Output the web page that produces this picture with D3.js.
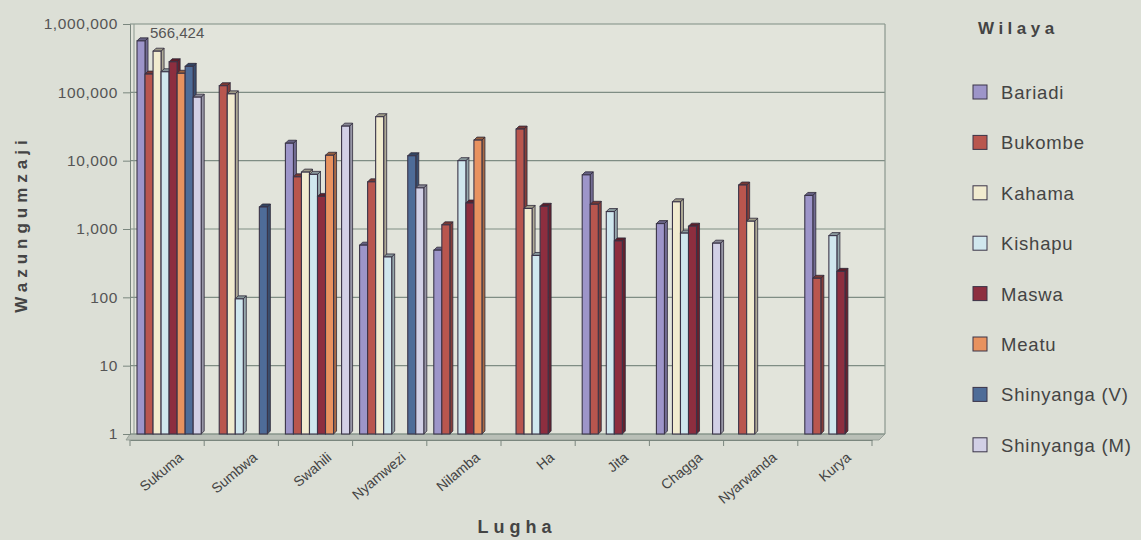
<!DOCTYPE html>
<html><head><meta charset="utf-8">
<script src="https://cdn.jsdelivr.net/npm/d3@7"></script>
<style>
html,body{margin:0;padding:0;background:#dcdfd6;}
svg{display:block;font-family:"Liberation Sans",Arial,sans-serif;}
</style></head>
<body>
<svg id="c" width="1141" height="540"></svg>
<script>
const categories = ["Sukuma","Sumbwa","Swahili","Nyamwezi","Nilamba","Ha","Jita","Chagga","Nyarwanda","Kurya"];
const seriesNames = ["Bariadi","Bukombe","Kahama","Kishapu","Maswa","Meatu","Shinyanga (V)","Shinyanga (M)"];
const seriesColors = ["#9d95c9","#b9564e","#f1ebcf","#d0e7ee","#8d2e3f","#e8925f","#4e6c98","#d2d0e6"];
// values per series, aligned with categories (0 = no bar)
const bariadi   = [566424, 0, 18000, 580, 490, 0, 6200, 1200, 0, 3100];
const bukombe   = [185000, 125000, 5800, 4900, 1150, 29000, 2300, 0, 4400, 190];
const kahama    = [400000, 95000, 6800, 44000, 0, 2000, 0, 2500, 1300, 0];
const kishapu   = [200000, 95, 6300, 390, 10000, 410, 1800, 870, 0, 800];
const maswa     = [280000, 0, 3000, 0, 2400, 2150, 670, 1100, 0, 240];
const meatu     = [190000, 0, 12000, 0, 20000, 0, 0, 0, 0, 0];
const shinyV    = [240000, 2100, 0, 11800, 0, 0, 0, 0, 0, 0];
const shinyM    = [85000, 0, 32000, 4000, 0, 0, 0, 620, 0, 0];
const seriesValues = [bariadi, bukombe, kahama, kishapu, maswa, meatu, shinyV, shinyM];
const yTicks = [1,10,100,1000,10000,100000,1000000];
const annotation = {category:"Sukuma", series:"Bariadi", text:"566,424"};

const svg = d3.select("#c");
const L = 130, R = 885, T = 24, B = 434;
const y = d3.scaleLog().domain([1,1e6]).range([B,T]);
const x0 = d3.scaleBand().domain(categories).range([L, 872]);
const bw = x0.bandwidth();
const x1 = d3.scaleBand().domain(seriesNames).range([7, bw-3]);
const color = d3.scaleOrdinal().domain(seriesNames).range(seriesColors);
const dx = 3, dy = 3;

// plot background
svg.append("rect").attr("x",L).attr("y",T).attr("width",R-L).attr("height",B-T).attr("fill","#e2e4db");
// floor
svg.append("path").attr("d",`M${L},${B} L${R},${B} L${R-6},${B+6} L${L-4},${B+6} Z`)
  .attr("fill","#b9bfb7").attr("stroke","#8e988f").attr("stroke-width",0.8);

// gridlines
svg.append("g").selectAll("line").data(yTicks).join("line")
  .attr("x1",L).attr("x2",R).attr("y1",d=>y(d)).attr("y2",d=>y(d))
  .attr("stroke","#7f8d84").attr("stroke-width",1.2);
svg.append("line").attr("x1",R).attr("x2",R).attr("y1",T).attr("y2",B).attr("stroke","#8a978e").attr("stroke-width",1.2);
svg.append("line").attr("x1",L+4).attr("x2",L+4).attr("y1",T).attr("y2",B).attr("stroke","#8a978e").attr("stroke-width",1);

// y axis
const yAxis = d3.axisLeft(y).tickValues(yTicks).tickFormat(d3.format(",")).tickSize(7).tickPadding(5);
const gy = svg.append("g").attr("transform",`translate(${L},0)`).call(yAxis);
gy.selectAll("text").attr("font-size",15.5).attr("letter-spacing",0.6).attr("fill","#555");
gy.selectAll("line").attr("stroke","#7a867e");
gy.select(".domain").attr("stroke","#7a867e");

// x axis
const xAxis = d3.axisBottom(x0).tickSize(0).tickFormat("");
const gx = svg.append("g").attr("transform",`translate(0,${B+6})`).call(xAxis);
gx.select(".domain").attr("stroke","#7a867e");
const bounds = categories.map(c=>x0(c)).concat([x0(categories[categories.length-1])+bw]);
svg.append("g").selectAll("line").data(bounds).join("line")
  .attr("x1",d=>d).attr("x2",d=>d).attr("y1",B+6).attr("y2",B+12).attr("stroke","#7a867e");

const lab = svg.append("g").selectAll("g").data(categories).join("g")
  .attr("transform",d=>`translate(${x0(d)+bw/2+17},${B+25})`);
lab.append("g").attr("transform","rotate(-40)")
  .append("text").attr("x",0).attr("y",0)
  .attr("text-anchor","end").attr("font-size",14).attr("fill","#444").text(d=>d);

// bars
const bars = [];
seriesNames.forEach((s,si)=>{
  categories.forEach((c,ci)=>{
    const v = seriesValues[si][ci];
    if (v>0) bars.push({s,c,v});
  });
});
const bw1 = x1.bandwidth();
const g = svg.append("g");
const bg = g.selectAll("g").data(bars).join("g");
bg.each(function(d){
  const sel = d3.select(this);
  const xl = x0(d.c)+x1(d.s), xr = xl+bw1, yt = y(d.v), yb = B;
  const col = d3.color(color(d.s));
  sel.append("path").attr("d",`M${xr},${yb} L${xr+dx},${yb-dy} L${xr+dx},${yt-dy} L${xr},${yt} Z`)
    .attr("fill",col.darker(0.9)).attr("stroke","#2e2a3a").attr("stroke-width",0.8);
  sel.append("path").attr("d",`M${xl},${yt} L${xl+dx},${yt-dy} L${xr+dx},${yt-dy} L${xr},${yt} Z`)
    .attr("fill",col.darker(1.2)).attr("stroke","#2e2a3a").attr("stroke-width",0.8);
  sel.append("rect").attr("x",xl).attr("y",yt).attr("width",bw1).attr("height",yb-yt)
    .attr("fill",col).attr("stroke","#3a3448").attr("stroke-width",1.1);
});

// annotation
const ai = categories.indexOf(annotation.category), asi = seriesNames.indexOf(annotation.series);
svg.append("text").attr("x",x0(annotation.category)+x1(annotation.series)+bw1+5)
  .attr("y",y(seriesValues[asi][ai])-3).attr("font-size",15).attr("fill","#555").text(annotation.text);

// axis titles
svg.append("text").attr("transform","translate(27,224) rotate(-90)").attr("text-anchor","middle")
  .attr("font-size",17).attr("font-weight","bold").attr("letter-spacing",5).attr("fill","#444").text("Wazungumzaji");
svg.append("text").attr("x",517).attr("y",533).attr("text-anchor","middle")
  .attr("font-size",18).attr("font-weight","bold").attr("letter-spacing",5).attr("fill","#444").text("Lugha");

// legend
svg.append("text").attr("x",978).attr("y",34).attr("font-size",17).attr("font-weight","bold")
  .attr("letter-spacing",4.5).attr("fill","#444").text("Wilaya");
const lg = svg.append("g").selectAll("g").data(seriesNames).join("g")
  .attr("transform",(d,i)=>`translate(973,${92+i*50.4})`);
lg.append("rect").attr("x",0).attr("y",-7).attr("width",14).attr("height",14)
  .attr("fill",d=>color(d)).attr("stroke","#3a3448").attr("stroke-width",1);
lg.append("text").attr("x",28).attr("y",7).attr("font-size",18.5).attr("letter-spacing",0.8).attr("fill","#444").text(d=>d);
</script>
</body></html>
